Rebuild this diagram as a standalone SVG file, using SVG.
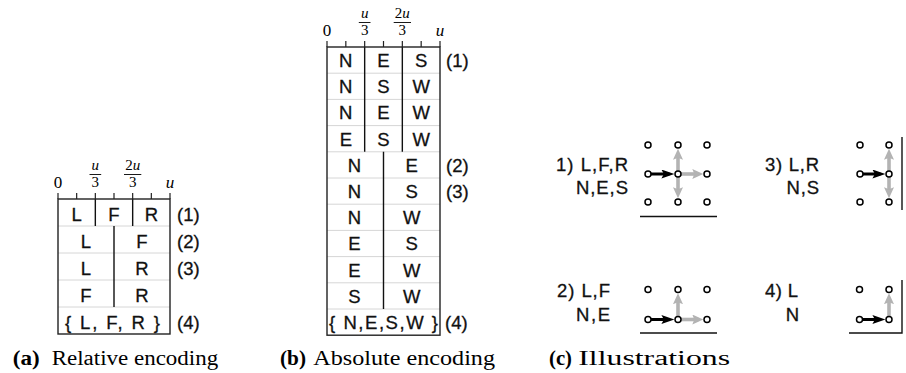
<svg xmlns="http://www.w3.org/2000/svg" width="906" height="373" viewBox="0 0 906 373">
<style>
.cell{font-family:"Liberation Sans",Arial,sans-serif;font-size:18.5px;text-anchor:middle;fill:#111;stroke:#111;stroke-width:0.3}
.lbl{font-family:"Liberation Sans",Arial,sans-serif;font-size:18.5px;fill:#111;stroke:#111;stroke-width:0.3}
.ax{font-family:"Liberation Serif","Times New Roman",serif;font-size:17px;text-anchor:middle;fill:#000}
.fr{font-family:"Liberation Serif","Times New Roman",serif;font-size:15px;text-anchor:middle;fill:#000}
.it{font-style:italic}
.cap{font-family:"Liberation Serif","Times New Roman",serif;font-size:20px;fill:#000}
.capb{font-weight:bold}
.border{stroke:#222;stroke-width:1.4;fill:none}
.sep{stroke:#d6d6d6;stroke-width:1}
.div{stroke:#111;stroke-width:1.4}
.tick{stroke:#222;stroke-width:1.2}
.bar{stroke:#000;stroke-width:0.9}
.base{stroke:#111;stroke-width:1.4}
.dot{fill:#fff;stroke:#000;stroke-width:1.5}
.blk{stroke:#000;stroke-width:3;marker-end:url(#ab)}
.gry{stroke:#b3b3b3;stroke-width:3.6;marker-end:url(#ag)}
</style>
<defs>
<marker id="ab" markerUnits="userSpaceOnUse" markerWidth="15" markerHeight="11" refX="8" refY="4.5" orient="auto"><path d="M0,0 L13,4.5 L0,9 L2.5,4.5 z" fill="#000"/></marker>
<marker id="ag" markerUnits="userSpaceOnUse" markerWidth="13" markerHeight="12" refX="6" refY="5" orient="auto"><path d="M0,0 L11,5 L0,10 L2,5 z" fill="#b3b3b3"/></marker>
</defs>

<!-- Panel (a) Relative encoding -->
<g id="panel-a">
  <g id="axis-a">
    <path class="tick" d="M58,193V199M76.67,193V199M95.33,193V199M114,193V199M132.67,193V199M151.33,193V199M170,193V199"/>
    <text class="ax" x="58" y="188">0</text>
    <text class="fr it" x="95.33" y="169.5">u</text>
    <line class="bar" x1="89.5" y1="174.5" x2="101.2" y2="174.5"/>
    <text class="fr" x="95.33" y="186.5">3</text>
    <text class="fr" x="132.67" y="169.5">2<tspan class="it">u</tspan></text>
    <line class="bar" x1="124" y1="174.5" x2="141.3" y2="174.5"/>
    <text class="fr" x="132.67" y="186.5">3</text>
    <text class="ax it" x="170" y="188">u</text>
  </g>
  <g id="table-a">
    <path class="sep" d="M58,226H170M58,253H170M58,280H170M58,307H170"/>
    <path class="div" d="M95.33,199V226M132.67,199V226M114,226V307"/>
    <rect class="border" x="58" y="199" width="112" height="135"/>
  </g>
  <g id="row-a1"><text class="cell" x="76.67" y="221">L</text><text class="cell" x="114" y="221">F</text><text class="cell" x="151.33" y="221">R</text><text class="lbl" x="177" y="221">(1)</text></g>
  <g id="row-a2"><text class="cell" x="86" y="248">L</text><text class="cell" x="142" y="248">F</text><text class="lbl" x="177" y="248">(2)</text></g>
  <g id="row-a3"><text class="cell" x="86" y="275">L</text><text class="cell" x="142" y="275">R</text><text class="lbl" x="177" y="275">(3)</text></g>
  <g id="row-a4"><text class="cell" x="86" y="302">F</text><text class="cell" x="142" y="302">R</text></g>
  <g id="row-a5"><text class="lbl" x="65" y="329" textLength="95" lengthAdjust="spacing">{ L, F, R }</text><text class="lbl" x="177" y="329">(4)</text></g>
  <text class="cap" x="12.7" y="365" textLength="27" lengthAdjust="spacingAndGlyphs"><tspan class="capb">(a)</tspan></text>
  <text class="cap" x="51.7" y="365" textLength="166.5" lengthAdjust="spacingAndGlyphs">Relative encoding</text>
</g>

<!-- Panel (b) Absolute encoding -->
<g id="panel-b">
  <g id="axis-b">
    <path class="tick" d="M327,41V47M345.83,41V47M364.67,41V47M383.5,41V47M402.33,41V47M421.17,41V47M440,41V47"/>
    <text class="ax" x="327" y="36">0</text>
    <text class="fr it" x="364.67" y="17.5">u</text>
    <line class="bar" x1="358.8" y1="22.5" x2="370.5" y2="22.5"/>
    <text class="fr" x="364.67" y="34.5">3</text>
    <text class="fr" x="402.33" y="17.5">2<tspan class="it">u</tspan></text>
    <line class="bar" x1="393.7" y1="22.5" x2="411" y2="22.5"/>
    <text class="fr" x="402.33" y="34.5">3</text>
    <text class="ax it" x="440" y="36">u</text>
  </g>
  <g id="table-b">
    <path class="sep" d="M327,73.2H440M327,99.4H440M327,125.6H440M327,151.8H440M327,178H440M327,204.2H440M327,230.4H440M327,256.6H440M327,282.8H440M327,309H440"/>
    <path class="div" d="M364.67,47V151.8M402.33,47V151.8M383.5,151.8V309"/>
    <rect class="border" x="327" y="47" width="113" height="288.2"/>
  </g>
  <g id="row-b1"><text class="cell" x="345.8" y="67">N</text><text class="cell" x="383.5" y="67">E</text><text class="cell" x="421.2" y="67">S</text><text class="lbl" x="446" y="67">(1)</text></g>
  <g id="row-b2"><text class="cell" x="345.8" y="93.2">N</text><text class="cell" x="383.5" y="93.2">S</text><text class="cell" x="421.2" y="93.2">W</text></g>
  <g id="row-b3"><text class="cell" x="345.8" y="119.4">N</text><text class="cell" x="383.5" y="119.4">E</text><text class="cell" x="421.2" y="119.4">W</text></g>
  <g id="row-b4"><text class="cell" x="345.8" y="145.6">E</text><text class="cell" x="383.5" y="145.6">S</text><text class="cell" x="421.2" y="145.6">W</text></g>
  <g id="row-b5"><text class="cell" x="354.5" y="171.8">N</text><text class="cell" x="411.7" y="171.8">E</text><text class="lbl" x="446" y="171.8">(2)</text></g>
  <g id="row-b6"><text class="cell" x="354.5" y="198">N</text><text class="cell" x="411.7" y="198">S</text><text class="lbl" x="446" y="198">(3)</text></g>
  <g id="row-b7"><text class="cell" x="354.5" y="224.2">N</text><text class="cell" x="411.7" y="224.2">W</text></g>
  <g id="row-b8"><text class="cell" x="354.5" y="250.4">E</text><text class="cell" x="411.7" y="250.4">S</text></g>
  <g id="row-b9"><text class="cell" x="354.5" y="276.6">E</text><text class="cell" x="411.7" y="276.6">W</text></g>
  <g id="row-b10"><text class="cell" x="354.5" y="302.8">S</text><text class="cell" x="411.7" y="302.8">W</text></g>
  <g id="row-b11"><text class="lbl" x="329" y="329" textLength="109" lengthAdjust="spacing">{ N,E,S,W }</text><text class="lbl" x="445" y="329">(4)</text></g>
  <text class="cap" x="280" y="365" textLength="26" lengthAdjust="spacingAndGlyphs"><tspan class="capb">(b)</tspan></text>
  <text class="cap" x="313.3" y="365" textLength="181.7" lengthAdjust="spacingAndGlyphs">Absolute encoding</text>
</g>

<!-- Panel (c) Illustrations -->
<g id="panel-c">
  <g id="connectors">
    <line class="gry" x1="678" y1="174" x2="678" y2="153.7"/>
    <line class="gry" x1="678" y1="174" x2="678" y2="193.3"/>
    <line class="gry" x1="678" y1="174" x2="698.3" y2="174"/>
    <line class="blk" x1="648" y1="174" x2="669.4" y2="174"/>
    <line class="gry" x1="889" y1="174" x2="889" y2="153.7"/>
    <line class="gry" x1="889" y1="174" x2="889" y2="193.3"/>
    <line class="blk" x1="860" y1="174" x2="880.4" y2="174"/>
    <line class="gry" x1="678" y1="319.5" x2="678" y2="298.2"/>
    <line class="gry" x1="678" y1="319.5" x2="698.3" y2="319.5"/>
    <line class="blk" x1="648" y1="319.5" x2="669.4" y2="319.5"/>
    <line class="gry" x1="889" y1="319.5" x2="889" y2="298.2"/>
    <line class="blk" x1="859.5" y1="319.5" x2="880.4" y2="319.5"/>
  </g>
  <g id="ill-1">
    <text class="lbl" x="556" y="171" textLength="72" lengthAdjust="spacing">1) L,F,R</text>
    <text class="lbl" x="576" y="194" textLength="52" lengthAdjust="spacing">N,E,S</text>
    <circle class="dot" cx="648" cy="145" r="3"/><circle class="dot" cx="678" cy="145" r="3"/><circle class="dot" cx="707" cy="145" r="3"/>
    <circle class="dot" cx="648" cy="174" r="3"/><circle class="dot" cx="678" cy="174" r="3"/><circle class="dot" cx="707" cy="174" r="3"/>
    <circle class="dot" cx="648" cy="202" r="3"/><circle class="dot" cx="678" cy="202" r="3"/><circle class="dot" cx="707" cy="202" r="3"/>
    <line class="base" x1="640" y1="216.5" x2="717" y2="216.5"/>
  </g>
  <g id="ill-3">
    <text class="lbl" x="765" y="171" textLength="54" lengthAdjust="spacing">3) L,R</text>
    <text class="lbl" x="786.5" y="194" textLength="32.5" lengthAdjust="spacing">N,S</text>
    <circle class="dot" cx="860" cy="145" r="3"/><circle class="dot" cx="889" cy="145" r="3"/>
    <circle class="dot" cx="860" cy="174" r="3"/><circle class="dot" cx="889" cy="174" r="3"/>
    <circle class="dot" cx="860" cy="202" r="3"/><circle class="dot" cx="889" cy="202" r="3"/>
    <line class="base" x1="902" y1="137" x2="902" y2="210"/>
  </g>
  <g id="ill-2">
    <text class="lbl" x="557" y="297" textLength="53" lengthAdjust="spacing">2) L,F</text>
    <text class="lbl" x="576" y="321" textLength="34" lengthAdjust="spacing">N,E</text>
    <circle class="dot" cx="648" cy="289.5" r="3"/><circle class="dot" cx="678" cy="289.5" r="3"/><circle class="dot" cx="707" cy="289.5" r="3"/>
    <circle class="dot" cx="648" cy="319.5" r="3"/><circle class="dot" cx="678" cy="319.5" r="3"/><circle class="dot" cx="707" cy="319.5" r="3"/>
    <line class="base" x1="640" y1="333" x2="717" y2="333"/>
  </g>
  <g id="ill-4">
    <text class="lbl" x="765" y="297" textLength="33" lengthAdjust="spacing">4) L</text>
    <text class="lbl" x="799" y="321" text-anchor="end">N</text>
    <circle class="dot" cx="859.5" cy="289.5" r="3"/><circle class="dot" cx="889" cy="289.5" r="3"/>
    <circle class="dot" cx="859.5" cy="319.5" r="3"/><circle class="dot" cx="889" cy="319.5" r="3"/>
    <path class="base" fill="none" d="M902,280V333H849"/>
  </g>
  <text class="cap" x="549" y="365" textLength="23" lengthAdjust="spacingAndGlyphs"><tspan class="capb">(c)</tspan></text>
  <text class="cap" x="578.3" y="365" textLength="151.7" lengthAdjust="spacingAndGlyphs">Illustrations</text>
</g>
</svg>
